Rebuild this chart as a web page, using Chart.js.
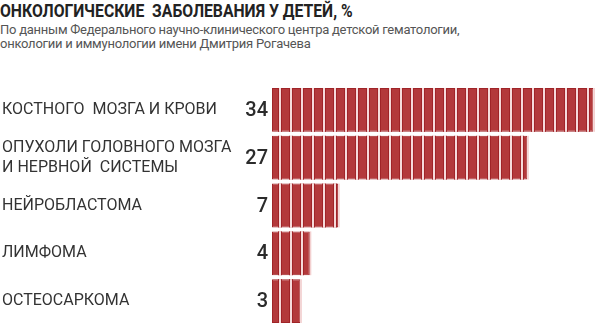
<!DOCTYPE html>
<html lang="ru">
<head>
<meta charset="utf-8">
<script src="https://cdn.jsdelivr.net/npm/chart.js@4/dist/chart.umd.min.js"></script>
<style>
    html, body { margin: 0; padding: 0; background: #fff; }
    #wrap { position: relative; width: 600px; height: 335px; overflow: hidden; }
    #titulo {
        position: absolute; left: 0; top: 0;
        font: bold 18px "Liberation Sans Narrow", "Roboto", sans-serif;
        transform: scaleX(0.875); transform-origin: 0 0;
        line-height: 22px; color: #222; white-space: pre;
    }
    #fonte {
        position: absolute; left: 0; top: 23px;
        font: 13px "Roboto", sans-serif;
        letter-spacing: -0.25px;
        line-height: 14px; color: #555;
    }
    canvas { position: absolute; left: 0; top: 0; }
</style>
</head>
<body>
<div id="wrap">
    <div id="titulo">ОНКОЛОГИЧЕСКИЕ  ЗАБОЛЕВАНИЯ У ДЕТЕЙ, %</div>
    <div id="fonte">По данным Федерального научно-клинического центра детской гематологии,<br>онкологии и иммунологии имени Дмитрия Рогачева</div>
    <canvas id="grafico" width="600" height="335"></canvas>
</div>
<script>
// Категории и доли, %
const categorias = [
    ['КОСТНОГО  МОЗГА И КРОВИ'],
    ['ОПУХОЛИ ГОЛОВНОГО МОЗГА', 'И НЕРВНОЙ  СИСТЕМЫ'],
    ['НЕЙРОБЛАСТОМА'],
    ['ЛИМФОМА'],
    ['ОСТЕОСАРКОМА']
];
const valores = [34, 27, 7, 4, 3];

const COR_BARRA = '#b3393b';
const COR_BORDA = '#a02428';

// Делит полосы на вертикальные «кирпичики» и пишет значения слева от них
const pluginSegmentos = {
    id: 'segmentos',
    afterDatasetsDraw(chart) {
        const ctx = chart.ctx;
        const meta = chart.getDatasetMeta(0);
        ctx.save();
        meta.data.forEach((bar, i) => {
            const { x, y, base, height } = bar.getProps(['x', 'y', 'base', 'height'], true);
            const topo = y - height / 2;
            for (let g = base + 7; g < x - 2; g += 11) {
                ctx.fillStyle = COR_BORDA;
                ctx.fillRect(g - 1, topo, 1, height);
                ctx.fillRect(g + 2, topo, 1, height);
                ctx.fillStyle = '#f6dada';
                ctx.fillRect(g, topo, 2, height);
            }
            ctx.fillStyle = '#f3d0d0';
            ctx.fillRect(x, topo, 1.5, height);

            ctx.fillStyle = '#2b2b2b';
            ctx.font = '500 20px Roboto, sans-serif';
            ctx.textAlign = 'right';
            ctx.textBaseline = 'middle';
            ctx.fillText(String(valores[i]), base - 4, y + 1);
        });
        ctx.restore();
    }
};

new Chart(document.getElementById('grafico').getContext('2d'), {
    type: 'bar',
    data: {
        labels: categorias,
        datasets: [{
            data: valores,
            backgroundColor: COR_BARRA,
            borderColor: COR_BORDA,
            borderWidth: 1,
            borderSkipped: false,
            barPercentage: 44 / 48,
            categoryPercentage: 1
        }]
    },
    options: {
        indexAxis: 'y',
        responsive: false,
        animation: false,
        layout: {
            padding: { top: 86, bottom: 9, left: 2, right: 6.5 }
        },
        plugins: {
            legend: { display: false },
            tooltip: { enabled: false }
        },
        scales: {
            x: {
                display: false,
                min: 0,
                max: 34
            },
            y: {
                afterFit(scale) {
                    scale.width = 270;
                },
                grid: { display: false },
                border: { display: false },
                ticks: {
                    crossAlign: 'far',
                    color: '#333',
                    padding: 0,
                    font: { family: 'Roboto', size: 16, lineHeight: 1.25 }
                }
            }
        }
    },
    plugins: [pluginSegmentos]
});
</script>
</body>
</html>
